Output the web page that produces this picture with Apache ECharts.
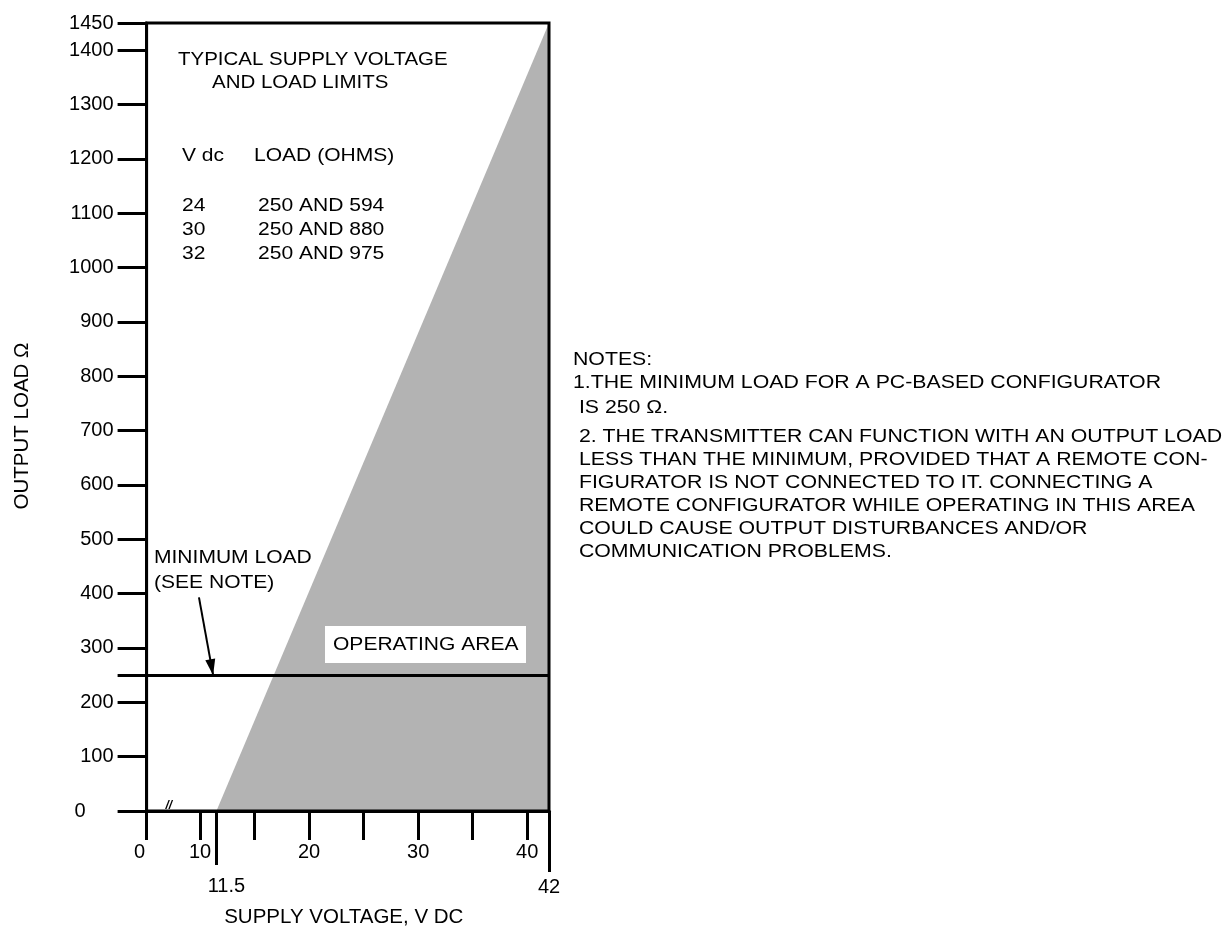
<!DOCTYPE html>
<html>
<head>
<meta charset="utf-8">
<script src="https://cdn.jsdelivr.net/npm/echarts@6/dist/echarts.min.js"></script>
<style>html,body{margin:0;padding:0;background:#fff}#c{width:1228px;height:928px}</style>
</head>
<body>
<div id="c"></div>
<script>
// ---- data ----
const xTickValues = [0, 10, 15, 20, 25, 30, 35, 40];
const xLabelValues = [0, 10, 20, 30, 40];
const xMinVoltage = [11.5];
const xMaxVoltage = [42];
const yLabelValues = [0, 100, 200, 300, 400, 500, 600, 700, 800, 900, 1000, 1100, 1200, 1300, 1400, 1450];
const yTickValues = [0, 100, 200, 250, 300, 400, 500, 600, 700, 800, 900, 1000, 1100, 1200, 1300, 1400, 1450];
const minimumLoad = 250;
const operatingEdge = [[11.5, 0], [42, 1450]];
const arrowTail = [9.9, 393];
const arrowTip = [11.2, 250];
const xBreak = { start: 0.5, end: 8.5, gap: 2.9 };
const titleLines = ['TYPICAL SUPPLY VOLTAGE', 'AND LOAD LIMITS'];
const tableHeader = ['V dc', 'LOAD (OHMS)'];
const tableVolts = ['24', '30', '32'];
const tableLoads = ['250 AND 594', '250 AND 880', '250 AND 975'];
const minLoadLabel = ['MINIMUM LOAD', '(SEE NOTE)'];
const areaLabel = 'OPERATING AREA';
const noteLines = [
  'NOTES:',
  '1.THE MINIMUM LOAD FOR A PC-BASED CONFIGURATOR',
  ' IS 250 \u03A9.',
  ' 2. THE TRANSMITTER CAN FUNCTION WITH AN OUTPUT LOAD',
  ' LESS THAN THE MINIMUM, PROVIDED THAT A REMOTE CON-',
  ' FIGURATOR IS NOT CONNECTED TO IT. CONNECTING A',
  ' REMOTE CONFIGURATOR WHILE OPERATING IN THIS AREA',
  ' COULD CAUSE OUTPUT DISTURBANCES AND/OR',
  ' COMMUNICATION PROBLEMS.'
];

// ---- chart ----
const FONT = '"Liberation Sans", Arial, Helvetica, sans-serif';
const SX = 1.12;
const chart = echarts.init(document.getElementById('c'), null, { renderer: 'canvas' });

function baseX(extra) {
  return Object.assign({
    type: 'value', gridIndex: 0, position: 'bottom', min: 0, max: 42, z: 5,
    breaks: [Object.assign({}, xBreak)],
    breakArea: { show: false },
    splitLine: { show: false },
    axisLine: { show: false },
    axisTick: { show: false },
    axisLabel: { show: false }
  }, extra);
}
const lbl = { color: '#000', fontSize: 20, fontFamily: FONT };

function txt(text, x, y, size, extra) {
  return Object.assign({
    type: 'text', x: x, y: y, scaleX: SX, z: 50,
    style: {
      text: text, fill: '#000', font: size + 'px ' + FONT,
      align: 'left', verticalAlign: 'middle', textAlign: 'left', textVerticalAlign: 'middle'
    }
  }, extra || {});
}

const graphics = [];
graphics.push(txt(titleLines[0], 178, 60, 18.3));
graphics.push(txt(titleLines[1], 212, 83, 18.3));
graphics.push(txt(tableHeader[0], 182, 156, 18.8));
graphics.push(txt(tableHeader[1], 254, 156, 18.8));
tableVolts.forEach((v, i) => {
  graphics.push(txt(v, 182, 206 + i * 24, 18.8));
  graphics.push(txt(tableLoads[i], 258, 206 + i * 24, 18.8));
});
graphics.push(txt(minLoadLabel[0], 154, 558, 18.8));
graphics.push(txt(minLoadLabel[1], 154, 583, 18.8));
graphics.push({ type: 'rect', z: 40, shape: { x: 325, y: 626, width: 201, height: 37 }, style: { fill: '#fff' } });
graphics.push(txt(areaLabel, 333, 645, 18.8));
const noteY = [360, 383, 408, 437, 460, 483, 506, 529, 552];
noteLines.forEach((t, i) => graphics.push(txt(t, 573, noteY[i], 19)));

const option = {
  animation: false,
  backgroundColor: '#fff',
  grid: { left: 146.6, right: 679, top: 23, bottom: 117, show: true, borderColor: '#000', borderWidth: 3, z: 5,
          containLabel: false, outerBoundsMode: 'none' },
  xAxis: [
    baseX({
      axisLine: { show: true, onZero: false, lineStyle: { color: '#000', width: 3 } },
      axisTick: { show: true, inside: false, length: 29, customValues: xTickValues, lineStyle: { color: '#000', width: 3 } },
      axisLabel: Object.assign({ show: true, margin: 31, customValues: xLabelValues,
        formatter: v => v === 0 ? '{z|0}' : String(v),
        rich: { z: { fontSize: 20, fontFamily: FONT, color: '#000', padding: [0, 14, 0, 0] } } }, lbl),
      name: 'SUPPLY VOLTAGE, V DC', nameLocation: 'middle', nameGap: 96,
      nameTextStyle: { color: '#000', fontSize: 20.5, fontFamily: FONT, padding: [0, 8, 0, 0] }
    }),
    baseX({
      axisTick: { show: true, inside: false, length: 54, customValues: xMinVoltage, lineStyle: { color: '#000', width: 3 } },
      axisLabel: Object.assign({ show: true, margin: 65, customValues: xMinVoltage,
        formatter: v => '{p|' + v + '}',
        rich: { p: { fontSize: 20, fontFamily: FONT, color: '#000', padding: [0, 0, 0, 20] } } }, lbl)
    }),
    baseX({
      axisTick: { show: true, inside: false, length: 61, customValues: xMaxVoltage, lineStyle: { color: '#000', width: 3 } },
      axisLabel: Object.assign({ show: true, margin: 66, customValues: xMaxVoltage }, lbl)
    })
  ],
  yAxis: [{
    type: 'value', min: 0, max: 1450, z: 5,
    splitLine: { show: false },
    axisLine: { show: true, onZero: false, lineStyle: { color: '#000', width: 3 } },
    axisTick: { show: true, inside: false, length: 29, customValues: yTickValues, lineStyle: { color: '#000', width: 3 } },
    axisLabel: Object.assign({ margin: 33, customValues: yLabelValues,
      formatter: v => v === 0 ? '{z|0}' : String(v),
      rich: { z: { fontSize: 20, fontFamily: FONT, color: '#000', padding: [0, 28, 0, 0] } } }, lbl),
    name: 'OUTPUT LOAD \u03A9', nameLocation: 'middle', nameGap: 114, nameRotate: 90,
    nameTextStyle: { color: '#000', fontSize: 20.5, fontFamily: FONT, padding: [0, 18, 0, 0] }
  }],
  series: [{
    type: 'line', xAxisIndex: 0, yAxisIndex: 0, data: operatingEdge, symbol: 'none', z: 2,
    lineStyle: { width: 0, color: '#b3b3b3' },
    areaStyle: { color: '#b3b3b3', opacity: 1 },
    markLine: {
      silent: true, symbol: ['none', 'none'], animation: false,
      label: { show: false },
      lineStyle: { color: '#000', width: 3, type: 'solid' },
      data: [
        { yAxis: minimumLoad },
        { yAxis: 0 },
        [
          { coord: arrowTail, symbol: 'none', lineStyle: { width: 2 } },
          { coord: arrowTip, symbol: 'triangle', symbolSize: [10, 16], symbolOffset: [0, 8], lineStyle: { width: 2 } }
        ]
      ]
    }
  }],
  graphic: graphics
};
chart.setOption(option);

// break mark on the x axis, centred in the axis break
const pA = chart.convertToPixel({ xAxisIndex: 0 }, xBreak.start);
const pB = chart.convertToPixel({ xAxisIndex: 0 }, xBreak.end);
const pY = chart.convertToPixel({ yAxisIndex: 0 }, 0);
if (isFinite(pA) && isFinite(pB)) {
  graphics.push({ type: 'text', x: (pA + pB) / 2 + 1, y: pY + 1, z: 50,
    style: { text: '//', fill: '#000', font: 'italic bold 12px ' + FONT,
      align: 'center', verticalAlign: 'bottom', textAlign: 'center', textVerticalAlign: 'bottom' } });
  chart.setOption({ graphic: graphics });
}
</script>
</body>
</html>
